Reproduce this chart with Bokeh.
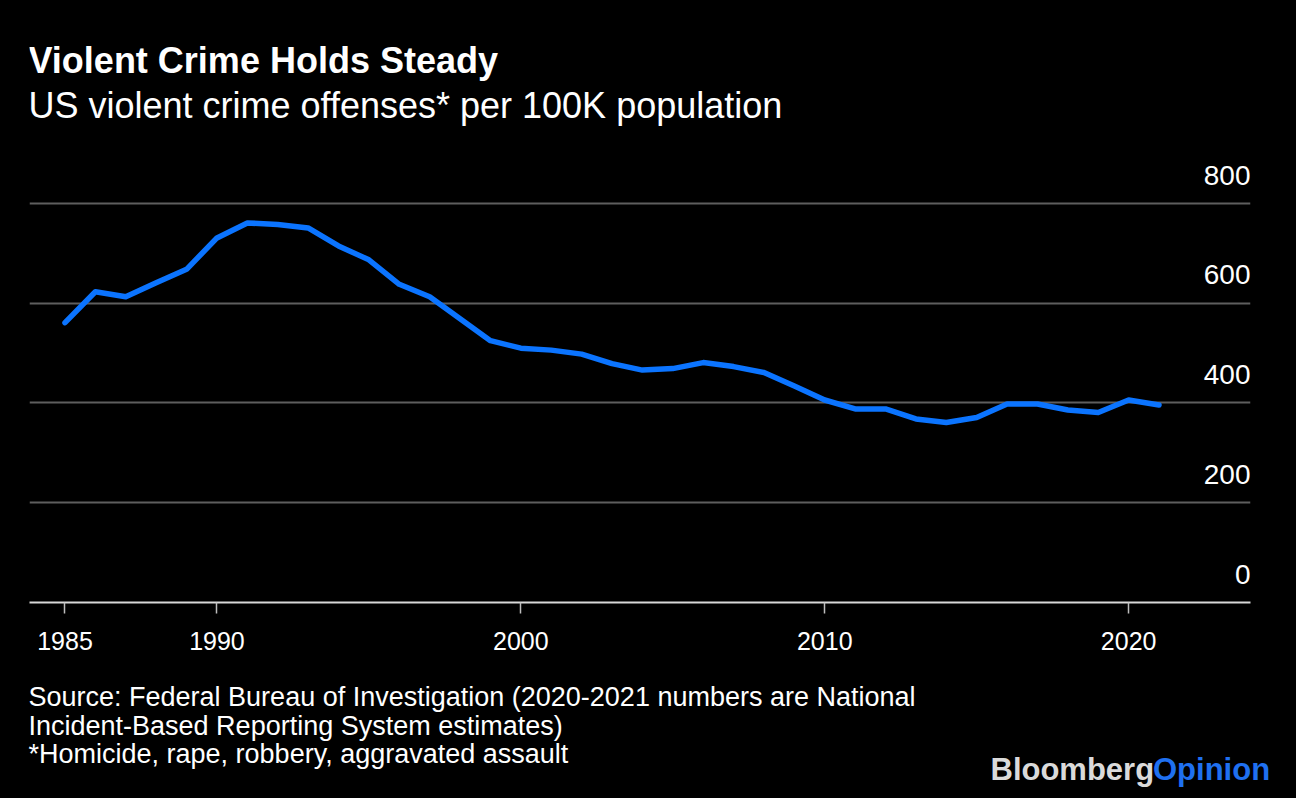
from bokeh.plotting import figure
from bokeh.models import Label, Range1d, FixedTicker, Grid, ColumnDataSource, Column
from bokeh.core.properties import value
from bokeh.embed import file_html
from bokeh.resources import INLINE

# ---- data ----
years = list(range(1985, 2022))
rate = [561, 623, 613, 641, 668, 731, 761, 758, 751, 715, 687, 638, 613, 569,
        525, 510, 506, 498, 479, 466, 469, 481, 473, 461, 434, 406, 388, 388,
        368, 361, 371, 398, 398, 386, 381, 406, 396]
x_ticks = [1985, 1990, 2000, 2010, 2020]
y_ticks = [0, 200, 400, 600, 800]
y_tick_labels = ["0", "200", "400", "600", "800"]

title = "Violent Crime Holds Steady"
subtitle = "US violent crime offenses* per 100K population"
footer = ["Source: Federal Bureau of Investigation (2020-2021 numbers are National",
          "Incident-Based Reporting System estimates)",
          "*Homicide, rape, robbery, aggravated assault"]

FONT = "Liberation Sans"
W = 1296
HA, HB = 673, 125            # chart figure / footer figure heights
FL, FR, FB = 29, 1250, 602   # frame left, right, bottom (canvas px)
X0, X1 = 1983.832, 2024.01
Y0, Y1 = 0, 1207.0

p = figure(width=W, height=HA, output_backend="svg", toolbar_location=None,
           x_range=Range1d(X0, X1), y_range=Range1d(Y0, Y1),
           y_axis_location=None,
           min_border_left=FL, min_border_right=W - FR,
           min_border_top=0, min_border_bottom=HA - FB,
           background_fill_color="black", border_fill_color="black")
p.outline_line_color = "black"
p.outline_line_width = 2
p.frame_align = False

p.xgrid.visible = False
p.ygrid.visible = False
grid = Grid(dimension=1, ticker=FixedTicker(ticks=[t for t in y_ticks if t > 0]),
            grid_line_color="#5e5e5e", grid_line_width=2)
p.add_layout(grid)

ax = p.xaxis[0]
ax.ticker = FixedTicker(ticks=x_ticks)
ax.axis_line_color = "#d8d8d8"
ax.axis_line_width = 2
ax.major_tick_line_color = "#bdbdbd"
ax.major_tick_line_width = 1.5
ax.major_tick_out = 11
ax.major_tick_in = 0
ax.minor_tick_line_color = None
ax.major_label_text_color = "white"
ax.major_label_text_font = FONT
ax.major_label_text_font_size = "25px"
ax.major_label_standoff = 18

src = ColumnDataSource(dict(x=years, y=rate))
p.line("x", "y", source=src, line_color="#0b74ff", line_width=5.5,
       line_join="round", line_cap="round")

ysrc = ColumnDataSource(dict(x=[X1] * len(y_ticks), y=y_ticks, t=y_tick_labels))
p.text("x", "y", text="t", source=ysrc, text_align="right",
       text_baseline="alphabetic", y_offset=-28.4, text_color="white",
       text_font=value(FONT), text_font_size="28px")


def lab(fig, fx, fb, text, x, base, size, bold=False, color="white", align="left"):
    # x: canvas x; base: desired canvas baseline (from top); size in px
    y = base - 0.358 * size
    fig.add_layout(Label(x=x - fx, y=fb - y, x_units="screen", y_units="screen",
                         text=text, text_font=FONT, text_font_size=f"{size}px",
                         text_font_style="bold" if bold else "normal",
                         text_color=color, text_align=align,
                         text_baseline="alphabetic"))


lab(p, FL, FB, title, 28, 73, 36, bold=True)
lab(p, FL, FB, subtitle, 28, 117.5, 36)

# ---- footer figure ----
q = figure(width=W, height=HB, output_backend="svg", toolbar_location=None,
           x_range=Range1d(0, 1), y_range=Range1d(0, 1),
           x_axis_location=None, y_axis_location=None,
           min_border=0, min_border_left=0, min_border_right=0,
           min_border_top=0, min_border_bottom=0,
           background_fill_color="black", border_fill_color="black")
q.outline_line_color = "black"
q.outline_line_width = 2
q.frame_align = False
q.xgrid.visible = False
q.ygrid.visible = False

for i, line in enumerate(footer):
    lab(q, 0, HA + HB, line, 28, 706.5 + i * 28.5, 27)
lab(q, 0, HA + HB, "Bloomberg", 990, 780, 31, bold=True, color="#dadada")
lab(q, 0, HA + HB, "Opinion", 1152.5, 780, 31, bold=True, color="#1f70f0")

layout = Column(children=[p, q], spacing=0, styles={"background-color": "black"})

open("out.html", "w").write(file_html(layout, INLINE))
